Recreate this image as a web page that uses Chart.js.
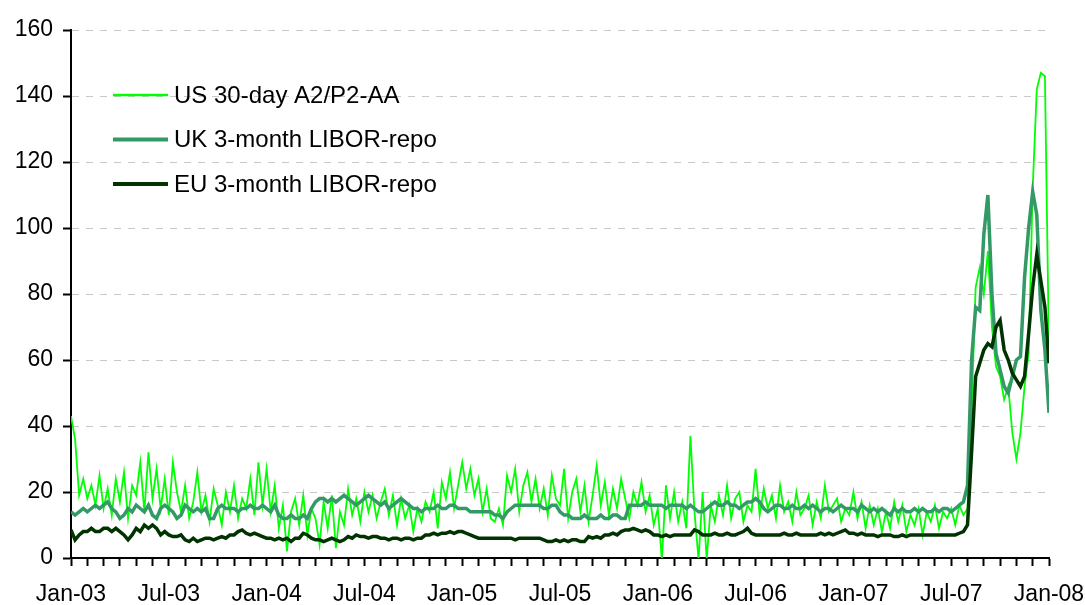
<!DOCTYPE html>
<html>
<head>
<meta charset="utf-8">
<script src="https://cdn.jsdelivr.net/npm/chart.js@4.4.1/dist/chart.umd.min.js"></script>
<style>
html, body { margin: 0; padding: 0; background: #fff; }
#wrap { width: 1085px; height: 605px; }
</style>
</head>
<body>
<div id="wrap"><canvas id="chart" width="1085" height="605"></canvas></div>
<script>
// Spreads in basis points at 4 points per month from Jan-03 to Jan-08
const seriesNames = ['US 30-day A2/P2-AA', 'UK 3-month LIBOR-repo', 'EU 3-month LIBOR-repo'];
const xTickLabels = ['Jan-03', 'Jul-03', 'Jan-04', 'Jul-04', 'Jan-05', 'Jul-05',
                     'Jan-06', 'Jul-06', 'Jan-07', 'Jul-07', 'Jan-08'];

const usSpread = [
  43, 36, 19, 24,  18, 22, 16, 25,  15, 21, 13, 24,
  17, 26, 12, 22,  19, 29, 14, 32,  18, 27, 15, 24,
  13, 29, 20, 14,  22, 12, 17, 26,  14, 19, 11, 21,
  16, 10, 20, 14,  22, 12, 18, 15,  24, 13, 29, 16,
  27, 14, 22, 9,   16, 2, 14, 18,   10, 19, 7, 15,
  12, 4, 17, 9,    19, 3, 14, 10,   21, 13, 18, 11,
  20, 14, 19, 12,  17, 21, 13, 19,  10, 18, 12, 16,
  8, 15, 11, 17,   14, 20, 9, 23,   18, 26, 15, 22,
  29, 21, 27, 19,  24, 14, 21, 12,  11, 15, 10, 25,
  20, 27, 14, 22,  26, 17, 24, 15,  21, 13, 25, 18,
  16, 27, 12, 20,  24, 14, 22, 11,  19, 28, 16, 23,
  13, 21, 15, 24,  18, 12, 20, 16,  23, 14, 19, 10,
  15, -0.5, 22, 12, 20, 11, 17, 9,  37, 14, -0.5, 20,
  -0.5, 16, 11, 19, 13, 22, 12, 18, 20, 11, 16, 14,
  27, 13, 21, 15,  19, 12, 22, 14,  17, 11, 20, 13,
  15, 19, 10, 17,  12, 22, 14, 16,  18, 11, 15, 13,
  20, 12, 17, 9,   16, 10, 15, 8,   14, 9, 17, 11,
  16, 8, 13, 10,   15, 7, 14, 11,   16, 9, 14, 12,
  15, 10, 16, 13,  15, 45, 82, 88,  80, 93, 70, 58,
  55, 48, 52, 38,  30, 38, 52, 62,  112, 142, 147, 146,
  62
];

const ukSpread = [
  14, 13, 14, 15,  14, 15, 16, 15,  16, 17, 15, 14,
  12, 13, 15, 14,  16, 15, 14, 16,  13, 12, 15, 16,
  15, 14, 12, 13,  16, 15, 14, 15,  14, 15, 12, 12,
  15, 16, 15, 15,  15, 14, 15, 15,  16, 15, 15, 16,
  15, 14, 16, 13,  12, 12, 13, 12,  12, 13, 12, 15,
  17, 18, 18, 17,  18, 17, 18, 19,  18, 17, 16, 17,
  18, 19, 18, 17,  16, 17, 15, 16,  17, 18, 17, 16,
  15, 15, 14, 15,  15, 15, 16, 15,  15, 16, 16, 15,
  15, 15, 14, 14,  14, 14, 14, 14,  13, 13, 12, 14,
  15, 16, 16, 16,  16, 16, 16, 16,  15, 15, 16, 16,
  14, 13, 13, 12,  12, 12, 13, 12,  12, 12, 13, 12,
  12, 13, 13, 12,  12, 16, 16, 16,  16, 17, 16, 16,
  16, 16, 15, 16,  16, 16, 16, 15,  16, 15, 14, 14,
  15, 16, 17, 16,  16, 17, 16, 16,  15, 16, 17, 17,
  18, 17, 15, 14,  15, 16, 16, 15,  15, 16, 15, 15,
  16, 15, 16, 15,  14, 15, 15, 14,  15, 16, 15, 15,
  15, 14, 16, 15,  14, 15, 14, 15,  14, 13, 15, 14,
  15, 14, 14, 15,  14, 15, 14, 14,  15, 14, 15, 15,
  14, 15, 16, 17,  22, 60, 76, 75,  98, 110, 80, 62,
  57, 52, 50, 55,  60, 61, 85, 100, 111, 104, 75, 63,
  44
];

const euSpread = [
  8.5, 5.5, 7, 8,  8, 9, 8, 8,      9, 9, 8, 9,
  8, 7, 5.5, 7,    9, 8, 10, 9,     10, 9, 7, 8,
  7, 6.5, 6.5, 7,  5.5, 5, 6, 5,    5.5, 6, 6, 5.5,
  6, 6.5, 6, 7,    7, 8, 8.5, 7.5,  7, 7.5, 7, 6.5,
  6, 6, 5.5, 6,    5.5, 6, 5, 6,    6, 7.5, 7, 6,
  5.5, 5.5, 5, 5.5, 6, 5.5, 5, 5.5, 6.5, 6, 7, 6.5,
  6.5, 6, 6.5, 6.5, 6, 6, 5.5, 6,   6, 5.5, 6, 6,
  5.5, 6, 6, 7,    7, 7.5, 7, 7.5,  7.5, 8, 7.5, 8,
  8, 7.5, 7, 6.5,  6, 6, 6, 6,      6, 6, 6, 6,
  6, 5.5, 6, 6,    6, 6, 6, 6,      5.5, 5, 5, 5.5,
  5, 5.5, 5, 5.5,  5.5, 5, 5, 6.5,  6, 6.5, 6, 7,
  7, 7.5, 7, 8,    8.5, 8.5, 9, 8.5, 8, 8.5, 8, 7,
  7, 6.5, 7, 6.5,  7, 7, 7, 7,      7, 8.5, 8, 7,
  7, 7, 7.5, 7,    7, 7.5, 7, 7,    7.5, 8, 9, 7.5,
  7, 7, 7, 7,      7, 7, 7, 7.5,    7, 7, 7.5, 7,
  7, 7, 7, 7,      7.5, 7, 7.5, 7,  7.5, 8, 8.5, 7.5,
  7.5, 7, 7.5, 7,  7, 7, 6.5, 7,    7, 7, 6.5, 6.5,
  7, 6.5, 7, 7,    7, 7, 7, 7,      7, 7, 7, 7,
  7, 7, 7.5, 8,    10, 32, 55, 59,  63, 65, 64, 70,
  72, 63, 60, 56,  54, 52, 55, 68,  82, 92, 84, 76,
  59
];

// x is months since Jan-03, one value every quarter month
function toPoints(values) {
  return values.map((v, i) => ({ x: i / 4, y: v }));
}

const tickFont = { family: 'Arial, "Liberation Sans", sans-serif', size: 23 };

// Legend drawn inside the plot, upper left
const insideLegend = {
  id: 'insideLegend',
  afterDraw(chart) {
    const ctx = chart.ctx;
    const area = chart.chartArea;
    chart.data.datasets.forEach((ds, i) => {
      const y = area.top + 65 + i * 44.5;
      ctx.save();
      ctx.strokeStyle = ds.borderColor;
      ctx.lineWidth = ds.legendWidth;
      ctx.beginPath();
      ctx.moveTo(area.left + 42, y);
      ctx.lineTo(area.left + 97, y);
      ctx.stroke();
      ctx.fillStyle = '#000';
      ctx.font = '24px Arial, "Liberation Sans", sans-serif';
      ctx.textBaseline = 'middle';
      ctx.fillText(ds.label, area.left + 103, y + 1);
      ctx.restore();
    });
  }
};

new Chart(document.getElementById('chart'), {
  type: 'line',
  data: {
    datasets: [
      { label: seriesNames[0], data: toPoints(usSpread), borderColor: '#00ff00',
        borderWidth: 1.8, legendWidth: 2.5, pointRadius: 0, tension: 0, order: 3 },
      { label: seriesNames[1], data: toPoints(ukSpread), borderColor: '#339966',
        borderWidth: 3.5, legendWidth: 4, pointRadius: 0, tension: 0, order: 2 },
      { label: seriesNames[2], data: toPoints(euSpread), borderColor: '#003300',
        borderWidth: 3.5, legendWidth: 4, pointRadius: 0, tension: 0, order: 1 }
    ]
  },
  options: {
    responsive: false,
    animation: false,
    layout: { padding: { top: 30, right: 36, left: 0, bottom: 0 } },
    plugins: { legend: { display: false }, tooltip: { enabled: false } },
    scales: {
      x: {
        type: 'linear',
        min: 0,
        max: 60,
        afterFit: s => { s.height = 47; s.paddingLeft = 0; s.paddingRight = 0; },
        ticks: {
          stepSize: 1,
          autoSkip: false,
          maxRotation: 0,
          minRotation: 0,
          padding: 15,
          color: '#000',
          font: tickFont,
          callback: v => (v % 6 === 0 ? xTickLabels[v / 6] : '')
        },
        grid: { drawOnChartArea: false, drawTicks: true, tickLength: 8, tickColor: '#000', tickWidth: 2 },
        border: { color: '#000', width: 2 }
      },
      y: {
        min: 0,
        max: 160,
        afterFit: s => { s.width = 71; },
        ticks: { stepSize: 20, padding: 10, color: '#000', font: tickFont },
        grid: { color: '#c8c8c8', lineWidth: 1, tickLength: 8, tickColor: '#000', tickWidth: 2 },
        border: { color: '#000', width: 2, dash: [7, 7] }
      }
    }
  },
  plugins: [insideLegend]
});
</script>
</body>
</html>
